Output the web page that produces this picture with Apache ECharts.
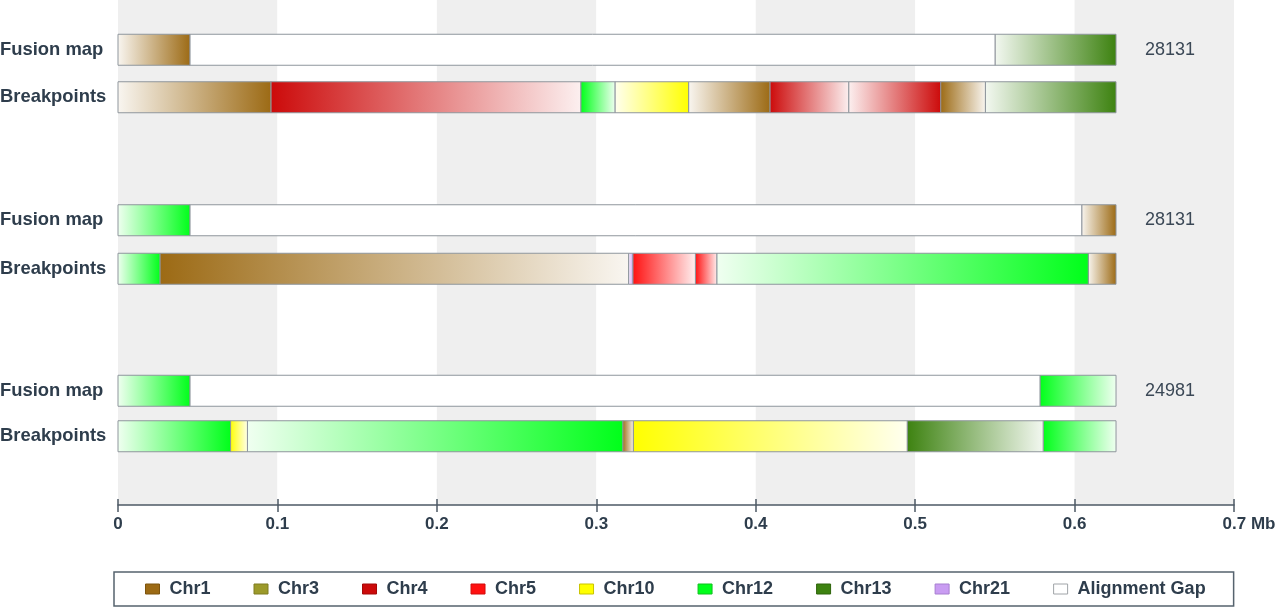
<!DOCTYPE html>
<html>
<head>
<meta charset="utf-8">
<script src="https://cdn.jsdelivr.net/npm/echarts@6/dist/echarts.min.js"></script>
<style>
  html, body { margin: 0; padding: 0; background: #fff; }
  #chart { width: 1280px; height: 608px; }
</style>
</head>
<body>
<div id="chart"></div>
<script>
// tracks shown for every sample
const trackNames = ['Fusion map', 'Breakpoints']

// legend / chromosome colours (dark end of each gradient)
const chromosomes = ['Chr1', 'Chr3', 'Chr4', 'Chr5', 'Chr10', 'Chr12', 'Chr13', 'Chr21', 'Alignment Gap']
const chromColors = ['#9c6a14', '#9c9a2a', '#cc0a0a', '#ff1010', '#ffff00', '#00ff1a', '#3d8210', '#c99cf2', '#ffffff']
const chromBorders = ['#7d540e', '#7e7c20', '#a30808', '#d00c0c', '#c9c400', '#10c020', '#2f640c', '#a77fd0', '#a0a4a8']

// x axis (Mb)
const axisMax = 0.7
const axisStep = 0.1
const axisUnit = 'Mb'

// read totals printed right of each fusion map
const sampleTotals = [28131, 28131, 24981]

// segments: [chromosome, start Mb, end Mb, orientation] (1 = light->dark, -1 = dark->light, 0 = gap)
const fusion1 = [
  ['Chr1', 0, 0.0452, 1],
  ['Alignment Gap', 0.0452, 0.5501, 0],
  ['Chr13', 0.5501, 0.626, 1],
]
const breaks1 = [
  ['Chr1', 0, 0.096, 1],
  ['Chr4', 0.096, 0.2904, -1],
  ['Chr12', 0.2904, 0.3117, -1],
  ['Chr10', 0.3117, 0.3579, 1],
  ['Chr1', 0.3579, 0.409, 1],
  ['Chr4', 0.409, 0.4584, -1],
  ['Chr4', 0.4584, 0.516, 1],
  ['Chr1', 0.516, 0.5441, -1],
  ['Chr13', 0.5441, 0.626, 1],
]
const fusion2 = [
  ['Chr12', 0, 0.0452, 1],
  ['Alignment Gap', 0.0452, 0.6045, 0],
  ['Chr1', 0.6045, 0.626, 1],
]
const breaks2 = [
  ['Chr12', 0, 0.0263, 1],
  ['Chr1', 0.0263, 0.3203, -1],
  ['Chr21', 0.3203, 0.3229, 1],
  ['Chr5', 0.3229, 0.3622, -1],
  ['Chr5', 0.3622, 0.3757, -1],
  ['Chr12', 0.3757, 0.6086, 1],
  ['Chr1', 0.6086, 0.626, 1],
]
const fusion3 = [
  ['Chr12', 0, 0.0452, 1],
  ['Alignment Gap', 0.0452, 0.5783, 0],
  ['Chr12', 0.5783, 0.626, -1],
]
const breaks3 = [
  ['Chr12', 0, 0.0706, 1],
  ['Chr10', 0.0706, 0.0812, -1],
  ['Chr12', 0.0812, 0.3166, 1],
  ['Chr1', 0.3166, 0.3233, -1],
  ['Chr10', 0.3233, 0.4951, -1],
  ['Chr13', 0.4951, 0.5803, -1],
  ['Chr12', 0.5803, 0.626, -1],
]

const fusionMaps = [fusion1, fusion2, fusion3]
const breakpointMaps = [breaks1, breaks2, breaks3]

const FONT = '"Liberation Sans", Arial, Helvetica, sans-serif'
const TEXT = '#2e3d4c'

// one grid per sample, the first grid only carries the axis + bands
const groupGrids = [
  { top: 26, height: 95 },
  { top: 196, height: 97 },
  { top: 368, height: 91 },
]

function mixWhite(hex, t) {
  const n = parseInt(hex.slice(1), 16)
  const r = (n >> 16) & 255, g = (n >> 8) & 255, b = n & 255
  const m = (c) => Math.round(c + (255 - c) * t)
  return `rgb(${m(r)},${m(g)},${m(b)})`
}

function makeRenderer(color) {
  const light = mixWhite(color, 0.94)
  return (params, api) => {
    const p0 = api.coord([api.value(0), api.value(2)])
    const p1 = api.coord([api.value(1), api.value(2)])
    const h = 31
    const dir = api.value(3)
    let fill = color
    if (dir !== 0) {
      fill = new echarts.graphic.LinearGradient(0, 0, 1, 0, [
        { offset: 0, color: dir > 0 ? light : color },
        { offset: 1, color: dir > 0 ? color : light },
      ])
    }
    return {
      type: 'rect',
      shape: { x: p0[0], y: p0[1] - h / 2, width: p1[0] - p0[0], height: h },
      style: { fill, stroke: '#8f969d', lineWidth: 1 },
    }
  }
}

const grids = [{ left: 118, right: 46, top: 0, bottom: 103, outerBoundsMode: 'none', containLabel: false }]
const xAxes = [
  {
    type: 'value', gridIndex: 0, min: 0, max: axisMax, interval: axisStep,
    axisLine: { lineStyle: { color: '#4d5965', width: 1.5 } },
    axisTick: { length: 7, lineStyle: { color: '#4d5965', width: 1.5 } },
    splitLine: { show: false },
    splitArea: { show: true, areaStyle: { color: ['#efefef', '#ffffff'] } },
    axisLabel: {
      margin: 11, color: TEXT, fontSize: 17, fontWeight: 'bold', fontFamily: FONT,
      formatter: (v) => (Math.abs(v - axisMax) < 1e-9 ? `{last|${v} ${axisUnit}}` : String(v)),
      rich: { last: { padding: [0, 0, 0, 30], color: TEXT, fontSize: 17, fontWeight: 'bold', fontFamily: FONT } },
    },
  },
  {
    // inside ticks so they cross the axis line
    type: 'value', gridIndex: 0, min: 0, max: axisMax, interval: axisStep, position: 'bottom',
    axisLine: { show: false },
    axisTick: { inside: true, length: 6, lineStyle: { color: '#4d5965', width: 1.5 } },
    axisLabel: { show: false }, splitLine: { show: false },
  },
]
const yAxes = [{ type: 'value', gridIndex: 0, show: false }]
const series = []

groupGrids.forEach((g, i) => {
  const gi = i + 1
  grids.push({ left: 118, right: 46, top: g.top, height: g.height, outerBoundsMode: 'none', containLabel: false })
  xAxes.push({ type: 'value', gridIndex: gi, min: 0, max: axisMax, show: false })
  yAxes.push({
    type: 'category', gridIndex: gi, data: trackNames, inverse: true,
    axisLine: { show: false }, axisTick: { show: false }, splitLine: { show: false },
    axisLabel: { margin: 118, align: 'left', color: TEXT, fontSize: 18.4, fontWeight: 'bold', fontFamily: FONT },
  })
  const tracks = [fusionMaps[i], breakpointMaps[i]]
  chromosomes.forEach((chr, ci) => {
    const data = []
    tracks.forEach((segs, ti) => {
      segs.forEach((s) => {
        if (s[0] === chr) data.push([s[1], s[2], ti, s[3]])
      })
    })
    series.push({
      type: 'custom', name: chr, xAxisIndex: gi + 1, yAxisIndex: gi,
      renderItem: makeRenderer(chromColors[ci]),
      itemStyle: { color: chromColors[ci], borderColor: chromBorders[ci] },
      encode: { x: [0, 1], y: 2 },
      data,
      silent: true,
    })
  })
  const fm = fusionMaps[i]
  series.push({
    type: 'custom', name: 'total', xAxisIndex: gi + 1, yAxisIndex: gi,
    encode: { x: 0, y: 1 },
    data: [[fm[fm.length - 1][2], 0, sampleTotals[i]]],
    renderItem: (params, api) => {
      const p = api.coord([api.value(0), api.value(1)])
      return {
        type: 'text', x: p[0] + 29, y: p[1],
        style: {
          text: String(api.value(2)), fill: '#3b4856', fontSize: 18, fontFamily: FONT,
          align: 'left', verticalAlign: 'middle',
        },
      }
    },
    silent: true,
  })
})

// x axes 0-1 belong to grid 0; group x axes start at index 2
const chart = echarts.init(document.getElementById('chart'))
chart.setOption({
  animation: false,
  grid: grids,
  xAxis: xAxes,
  yAxis: yAxes,
  legend: {
    data: chromosomes.map((name, ci) => ({
      name,
      itemStyle: { color: chromColors[ci], borderColor: chromBorders[ci], borderWidth: 1 },
    })),
    top: 572,
    left: 114,
    icon: 'rect',
    itemWidth: 14,
    itemHeight: 10,
    itemGap: 43,
    padding: [8, 28, 8, 31],
    borderColor: '#56636e',
    borderWidth: 1.5,
    selectedMode: false,
    textStyle: { color: TEXT, fontSize: 18, fontWeight: 'bold', fontFamily: FONT, padding: [0, 0, 0, 5] },
  },
  series,
})
window.addEventListener('resize', () => chart.resize())
</script>
</body>
</html>
